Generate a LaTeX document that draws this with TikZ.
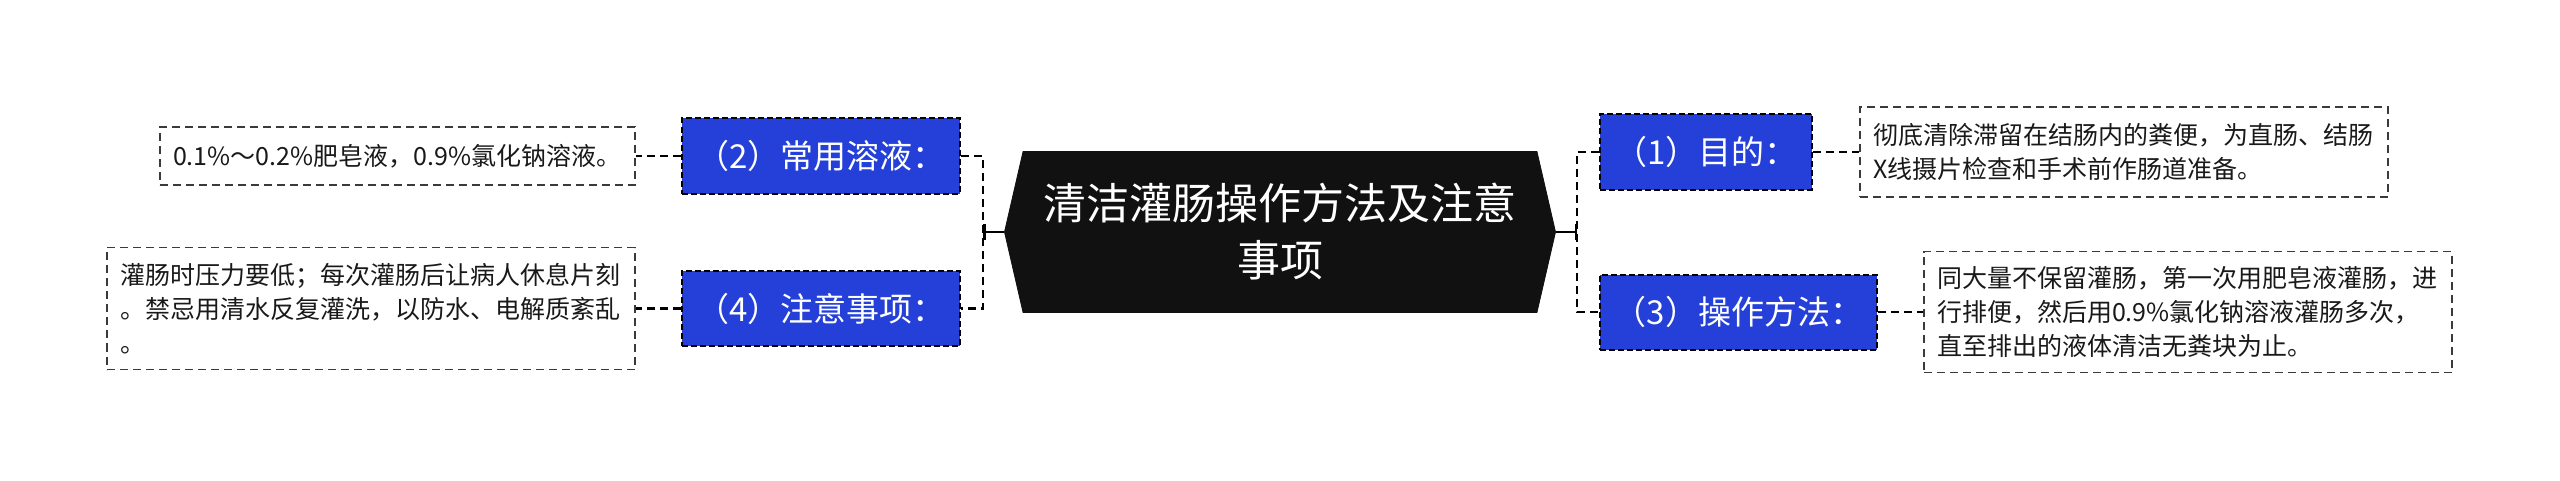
\documentclass[tikz,border=0pt]{standalone}
\usepackage{fontspec}
\newfontfamily\cjk{Noto Sans CJK SC}
\usetikzlibrary{shapes.symbols,arrows.meta}
\definecolor{rootfill}{HTML}{111111}
\definecolor{itemblue}{HTML}{2440D8}
\definecolor{leafgray}{HTML}{3A3A3A}
\tikzset{
  root/.style={signal, signal to=east and west, signal pointer angle=154,
    fill=rootfill, draw=rootfill, text=white, align=center, inner sep=0pt,
    font=\cjk\fontsize{21.5}{28.5}\selectfont,
    minimum width=275.5pt, minimum height=80.5pt},
  item/.style={rectangle, fill=itemblue, draw=black, line width=1pt,
    dash pattern=on 3pt off 1.5pt, text=white, inner sep=0pt,
    font=\cjk\fontsize{16.5}{20}\selectfont,
    minimum width=#1, minimum height=37.5pt},
  leaf/.style 2 args={rectangle, draw=leafgray, line width=0.75pt,
    dash pattern=on 4pt off 2.5pt, text=black!90, align=left,
    inner xsep=6.5pt, inner ysep=0pt, text width=#1, minimum height=#2,
    font=\cjk\fontsize{12.5}{17}\selectfont},
  link/.style={line width=1.25pt, dash pattern=on 4pt off 2.5pt},
  stem/.style={line width=1.25pt, -{Bar[width=8pt,line width=1.25pt]}}
}
\begin{document}
\begin{tikzpicture}[x=0.5pt,y=-0.5pt]
  \useasboundingbox (0,0) rectangle (2560,481);
  % centre and forks
  \node[root] (R) at (1280,232) {清洁灌肠操作方法及注意\\事项};
  \coordinate (JL) at (983,232);
  \coordinate (JR) at (1577,232);

  % right side
  \node[item=106pt] (B1) at (1706,152) {（1）目的：};
  \node[item=138.5pt] (B3) at (1738.5,312) {（3）操作方法：};
  \node[leaf={251pt}{45pt}] (L1) at (2124,152)
    {彻底清除滞留在结肠内的粪便，为直肠、结肠\\X线摄片检查和手术前作肠道准备。};
  \node[leaf={251pt}{60.5pt}] (L3) at (2188,312)
    {同大量不保留灌肠，第一次用肥皂液灌肠，进\\行排便，然后用0.9\%氯化钠溶液灌肠多次，\\直至排出的液体清洁无粪块为止。};

  % left side
  \node[item=139pt] (B2) at (821,156) {（2）常用溶液：};
  \node[item=139pt] (B4) at (821,308.5) {（4）注意事项：};
  \node[leaf={224.5pt}{29pt}] (L2) at (397.5,156)
    {0.1\%～0.2\%肥皂液，0.9\%氯化钠溶液。};
  \node[leaf={251pt}{61pt}] (L4) at (371,308.5)
    {灌肠时压力要低；每次灌肠后让病人休息片刻\\。禁忌用清水反复灌洗，以防水、电解质紊乱\\。};

  \draw[link] (B2.east) -| (JL) |- (B4.east);
  \draw[link] (B1.west) -| (JR) |- (B3.west);
  \draw[stem] (R.west) -- (JL);
  \draw[stem] (R.east) -- (JR);
  \draw[link] (B1.east) -- (L1.west);
  \draw[link] (B3.east) -- (L3.west);
  \draw[link] (B2.west) -- (L2.east);
  \draw[link] (B4.west) -- (L4.east);
\end{tikzpicture}
\end{document}
